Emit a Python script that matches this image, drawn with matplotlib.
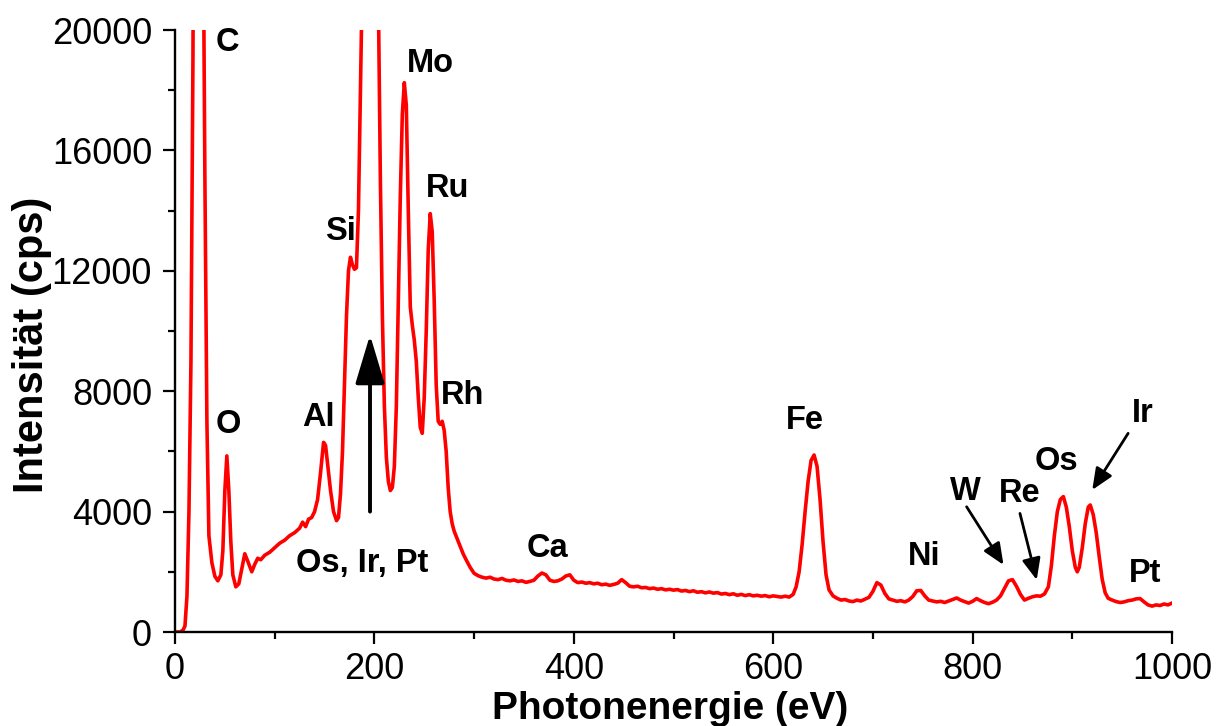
import matplotlib
matplotlib.use("Agg")
import matplotlib.pyplot as plt
from matplotlib.ticker import MultipleLocator

plt.rcParams['font.family'] = ['Liberation Sans', 'DejaVu Sans']

energy = [0, 5, 8, 10, 12, 14, 16, 18, 20, 24, 28, 30, 32, 34, 37, 40, 43, 46, 48, 50, 52, 54, 56, 58, 61, 64, 67,
          70, 73, 77, 80, 83, 86, 90, 95, 100, 105, 110, 115, 120, 125, 128, 131, 134, 137, 140, 143, 146, 149, 151,
          153, 156, 159, 162, 164, 166, 168, 170, 172, 174, 176, 178, 180, 182, 184, 186, 188, 192, 196, 200, 204,
          206, 208, 210, 212, 214, 216, 218, 220, 222, 224, 226, 228, 230, 232, 234, 236, 238, 240, 242, 244, 246,
          248, 250, 252, 254, 256, 258, 260, 262, 264, 266, 268, 270, 272, 274, 276, 278, 280, 283, 286, 289, 292,
          296,
          300, 304, 308, 312, 316, 320, 324, 328, 332, 336, 340, 344, 348, 352, 356, 360, 364, 368, 372, 376, 380,
          384, 388, 392, 396, 400, 404, 408, 412, 416, 420, 424, 428, 432, 436, 440, 444, 448, 452, 456, 460, 464,
          468, 472, 476, 480, 484, 488, 492, 496, 500, 504, 508, 512, 516, 520, 524, 528, 532, 536, 540, 544, 548,
          552, 556, 560, 564, 568, 572, 576, 580, 584, 588, 592, 596, 600, 604, 608, 612, 616, 620,
          623, 626, 629, 632, 635, 638, 641, 644, 647, 650, 653, 656,
          660, 664, 668, 672, 676, 680, 684, 688, 692, 696, 700, 704, 708, 712, 716, 720, 724, 728, 732, 736, 740,
          744, 748, 752, 756, 760, 764, 768, 772, 776, 780, 784, 788, 792, 796, 800, 804, 808, 812, 816, 820, 824,
          828, 832, 836, 840, 844, 848, 852, 856, 860, 864, 868, 872, 876, 879, 882, 885, 888, 891, 894, 897, 900,
          903, 905, 907, 910, 913, 916, 918, 921, 924, 927, 930, 933, 936, 940, 944, 948, 952, 956, 960, 964, 968,
          972, 976, 980, 984, 988, 992, 996, 1000]

intensity = [0, 0, 60, 200, 1200, 4000, 9000, 19000, 35000, 60000, 25000, 15000, 7000, 3200, 2300, 1850, 1700,
             1900, 2700, 4700, 5850, 4700, 3000, 1900, 1500, 1600, 2100, 2600, 2350, 2000, 2250, 2450, 2400, 2550,
             2650, 2800, 2950, 3050, 3200, 3300, 3450, 3650, 3500, 3750, 3800, 4000, 4400, 5300, 6300, 6200, 5600,
             4700, 4000, 3700, 3800, 4600, 6000, 8200, 10500, 12000, 12450, 12200, 12050, 12100, 14000, 18000,
             22000, 35000, 45000, 35000, 21000, 15000, 10500, 7500, 5800, 5000, 4700, 4800, 5500, 7500, 11000,
             14500, 17200, 18250, 17500, 14000, 10800, 10200, 9700, 9000, 7800, 6800, 6600, 7800, 10000, 12700,
             13900, 13300, 11000, 8200, 7000, 6900, 7000, 6700, 6000, 4800, 4000, 3600, 3350, 3100, 2850, 2600,
             2400, 2150,
             1950, 1870, 1820, 1790, 1820, 1760, 1740, 1780, 1720, 1700, 1730, 1680, 1700, 1650, 1680, 1720, 1860,
             1960, 1900, 1720, 1680, 1700, 1760, 1860, 1900, 1720, 1640, 1660, 1620, 1640, 1600, 1620, 1570, 1590,
             1550, 1580, 1620, 1740, 1640, 1520, 1500, 1520, 1470, 1480, 1440, 1460, 1420, 1440, 1400, 1420, 1390,
             1410, 1360, 1380, 1340, 1370, 1320, 1340, 1300, 1330, 1290, 1310, 1260, 1280, 1240, 1270, 1220, 1250,
             1210, 1240, 1200, 1220, 1190, 1210, 1170, 1200, 1180, 1160, 1190, 1160, 1250,
             1500, 2000, 2900, 4000, 5000, 5700, 5880, 5500, 4400, 3000, 1900, 1400,
             1200, 1120, 1060, 1080, 1030, 1010, 1060, 1030, 1090, 1150, 1350, 1640, 1560, 1280, 1100, 1060, 1020,
             1040, 1000, 1060, 1180, 1370, 1380, 1200, 1060, 1030, 1000, 1020, 980, 1030, 1080, 1130, 1060, 1010,
             960, 1020, 1110, 1040, 980, 940, 990, 1060, 1200, 1450, 1700, 1740, 1520, 1250, 1060, 1120, 1170, 1200,
             1190, 1260, 1500, 2200, 3200, 4000, 4400, 4500, 4150, 3500, 2700, 2150, 2000, 2150, 2800, 3600, 4150,
             4220, 3900, 3300, 2500, 1750, 1300, 1120, 1060, 1010, 980, 1000, 1040, 1060, 1100, 1110, 1000, 900, 860,
             900, 880, 930, 900, 960]

labels = ["C", "Mo", "Si", "Ru", "O", "Al", "Rh", "Ca", "Fe", "Ni", "W", "Re", "Os", "Ir", "Pt", "Os, Ir, Pt"]
label_x = [53, 256, 165.5, 273, 53, 143.4, 288, 374, 632, 751, 792.4, 847.5, 884, 970.6, 973, 187.5]
label_y = [19570, 18900, 13290, 14750, 6880, 7110, 7870, 2790, 7040, 2500, 4660, 4610, 5660, 7260, 1950, 2290]

arrow_start_x = [195.6, 794, 847.5, 956]
arrow_start_y = [4000, 4160, 3940, 6600]
arrow_end_x = [195.6, 831, 864.3, 920]
arrow_end_y = [9870, 2230, 1730, 4720]

fig = plt.figure(figsize=(12.23, 7.26), dpi=100)
ax = fig.add_axes([175 / 1223, 1 - 632 / 726, (1172 - 175) / 1223, (632 - 30) / 726])

ax.plot(energy, intensity, color='#ff0000', lw=2.6, solid_joinstyle='round')

ax.set_xlim(0, 1000)
ax.set_ylim(0, 20000)
ax.xaxis.set_major_locator(MultipleLocator(200))
ax.xaxis.set_minor_locator(MultipleLocator(100))
ax.yaxis.set_major_locator(MultipleLocator(4000))
ax.yaxis.set_minor_locator(MultipleLocator(2000))
for s in ['top', 'right']:
    ax.spines[s].set_visible(False)
for s in ['left', 'bottom']:
    ax.spines[s].set_linewidth(1.7)
ax.tick_params(which='major', direction='out', length=8.5, width=1.6, labelsize=26, pad=8)
ax.tick_params(axis='x', which='major', pad=6)
ax.tick_params(which='minor', direction='out', length=5, width=1.6)

ax.set_xlabel("Photonenergie (eV)", fontsize=28, fontweight='bold', va='top')
ax.xaxis.set_label_coords((670 - 175) / 997, (632 - 691) / 602)
ax.set_ylabel("Intensität (cps)", fontsize=30, fontweight='bold', va='center')
ax.yaxis.set_label_coords((32 - 175) / 997, (632 - 345) / 602)

for t, x, y in zip(labels, label_x, label_y):
    ax.text(x, y, t, fontsize=23.5, fontweight='bold', ha='center', va='center')

for i, (sx, sy, ex, ey) in enumerate(zip(arrow_start_x, arrow_start_y, arrow_end_x, arrow_end_y)):
    big = i == 0
    style = '-|>,head_length=1.5,head_width=0.45' if big else '-|>,head_length=0.65,head_width=0.28'
    ax.annotate("", xy=(ex, ey), xytext=(sx, sy),
                arrowprops=dict(arrowstyle=style, color='black', lw=2.8 if big else 2.0,
                                shrinkA=0, shrinkB=0, mutation_scale=20))

fig.savefig("out.png", dpi=100)
